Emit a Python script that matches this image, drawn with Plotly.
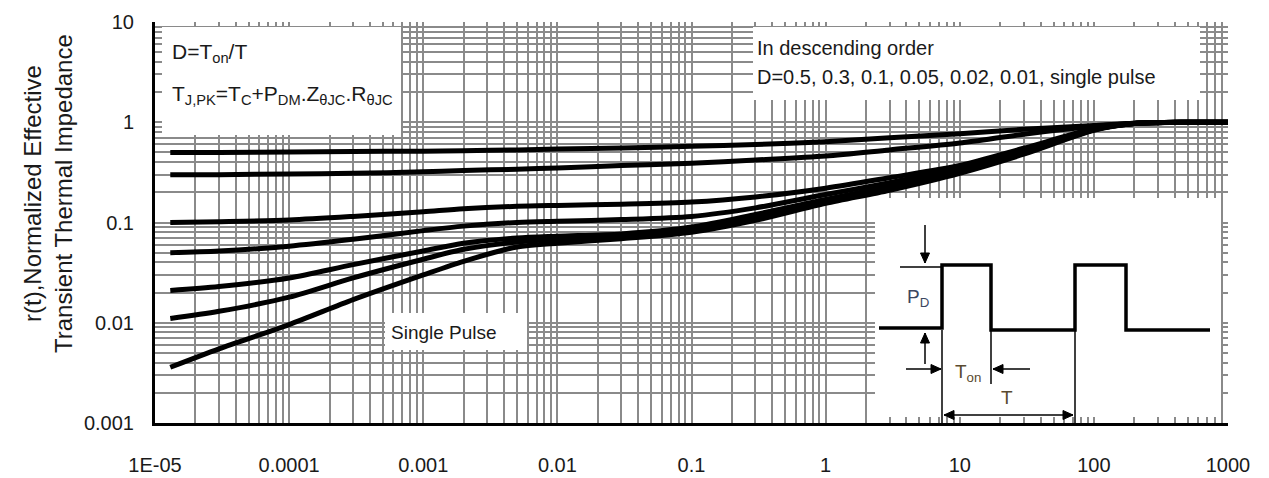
import plotly.graph_objects as go

# ---------------- data ----------------
t_vals = [1.3e-5, 3e-5, 1e-4, 3e-4, 1e-3, 2e-3, 5e-3, 1e-2, 3e-2, 0.1, 0.3, 1, 3, 10, 30, 100, 200, 500, 1000]

d_050 = [0.50, 0.50, 0.505, 0.51, 0.515, 0.52, 0.53, 0.54, 0.555, 0.575, 0.60, 0.64, 0.70, 0.77, 0.85, 0.93, 0.98, 1.0, 1.0]
d_030 = [0.30, 0.30, 0.305, 0.31, 0.32, 0.33, 0.34, 0.35, 0.37, 0.39, 0.42, 0.46, 0.53, 0.62, 0.76, 0.91, 0.98, 1.0, 1.0]
d_010 = [0.10, 0.102, 0.106, 0.115, 0.128, 0.137, 0.145, 0.148, 0.152, 0.16, 0.18, 0.22, 0.28, 0.37, 0.55, 0.86, 0.97, 1.0, 1.0]
d_005 = [0.05, 0.052, 0.058, 0.068, 0.083, 0.092, 0.10, 0.103, 0.107, 0.115, 0.14, 0.19, 0.25, 0.35, 0.52, 0.85, 0.97, 1.0, 1.0]
d_002 = [0.021, 0.023, 0.028, 0.038, 0.052, 0.062, 0.07, 0.073, 0.077, 0.09, 0.12, 0.17, 0.23, 0.33, 0.50, 0.84, 0.97, 1.0, 1.0]
d_001 = [0.011, 0.013, 0.018, 0.028, 0.043, 0.054, 0.064, 0.068, 0.073, 0.085, 0.11, 0.16, 0.22, 0.32, 0.49, 0.84, 0.97, 1.0, 1.0]
single = [0.0036, 0.0055, 0.0096, 0.017, 0.030, 0.041, 0.057, 0.062, 0.069, 0.08, 0.105, 0.155, 0.21, 0.31, 0.48, 0.83, 0.97, 1.0, 1.0]

series_names = ["D=0.5", "D=0.3", "D=0.1", "D=0.05", "D=0.02", "D=0.01", "Single pulse"]
series_vals = [d_050, d_030, d_010, d_005, d_002, d_001, single]

x_tickvals = [1e-5, 1e-4, 1e-3, 1e-2, 1e-1, 1, 10, 100, 1000]
x_ticktext = ["1E-05", "0.0001", "0.001", "0.01", "0.1", "1", "10", "100", "1000"]
y_tickvals = [0.001, 0.01, 0.1, 1, 10]
y_ticktext = ["0.001", "0.01", "0.1", "1", "10"]

x_minor = [m * 10.0 ** e for e in range(-5, 3) for m in range(2, 10)]
y_minor = [m * 10.0 ** e for e in range(-3, 1) for m in range(2, 10)]

# ---------------- geometry helpers (pixel -> paper) ----------------
W, H = 1269, 478
PL, PR, PT, PB = 155, 1228, 22, 423


def px(x):
    return (x - PL) / (PR - PL)


def py(y):
    return (PB - y) / (PB - PT)


FONT = "Liberation Sans Narrow, Arial Narrow, Liberation Sans, Arial"
GRID = "#8a8a8a"
TXT = "#1a1a1a"

fig = go.Figure()
for name, vals in zip(series_names, series_vals):
    fig.add_trace(go.Scatter(x=t_vals, y=vals, mode="lines", name=name,
                             line=dict(color="black", width=5, shape="spline", smoothing=0.8),
                             showlegend=False))

shapes = []
# white boxes covering the grid
for (x0, y0, x1, y1) in [(162, 27, 401, 135), (753, 27, 1200, 100), (385, 313, 527, 350), (875, 198, 1221, 417)]:
    shapes.append(dict(type="rect", xref="paper", yref="paper", x0=px(x0), x1=px(x1), y0=py(y1), y1=py(y0),
                       fillcolor="white", line=dict(width=0), layer="above"))

# pulse waveform in the inset
wave = [(879, 328), (942, 328), (942, 265), (991, 265), (991, 330), (1075, 330), (1075, 265),
        (1126, 265), (1126, 330), (1210, 330)]
path = "M " + " L ".join(f"{px(a)},{py(b)}" for a, b in wave)
shapes.append(dict(type="path", xref="paper", yref="paper", path=path, line=dict(color="black", width=3.5)))
thin = [((900, 267), (942, 267)), ((942, 330), (942, 423)), ((991, 330), (991, 384)), ((1075, 330), (1075, 423))]
for (a, b) in thin:
    shapes.append(dict(type="line", xref="paper", yref="paper", x0=px(a[0]), y0=py(a[1]), x1=px(b[0]), y1=py(b[1]),
                       line=dict(color="black", width=1.5)))


def head(hx, hy, dx, dy):
    L, Wd = 10, 4.5
    bx, by = hx - dx * L, hy - dy * L
    nx, ny = -dy, dx
    pts = [(hx, hy), (bx + nx * Wd, by + ny * Wd), (bx - nx * Wd, by - ny * Wd)]
    p = "M " + " L ".join(f"{px(a)},{py(b)}" for a, b in pts) + " Z"
    shapes.append(dict(type="path", xref="paper", yref="paper", path=p, fillcolor="black",
                       line=dict(color="black", width=1)))


def arrow(tx, ty, hx, hy, both=False):
    shapes.append(dict(type="line", xref="paper", yref="paper", x0=px(tx), y0=py(ty), x1=px(hx), y1=py(hy),
                       line=dict(color="black", width=1.5)))
    d = ((hx - tx) ** 2 + (hy - ty) ** 2) ** 0.5
    ux, uy = (hx - tx) / d, (hy - ty) / d
    head(hx, hy, ux, uy)
    if both:
        head(tx, ty, -ux, -uy)


arrow(925, 225, 925, 263)
arrow(925, 364, 925, 333)
arrow(906, 369, 941, 369)
arrow(1030, 369, 993, 369)
arrow(944, 415, 1073, 415, both=True)

annotations = []


def txt(x, y, s, size=19, color=TXT, xanchor="left"):
    annotations.append(dict(x=px(x), y=py(y), xref="paper", yref="paper", text=s, showarrow=False,
                            xanchor=xanchor, yanchor="middle", font=dict(family=FONT, size=size, color=color)))


txt(170, 53, "D=T<sub>on</sub>/T", size=21)
txt(170, 95, "T<sub>J,PK</sub>=T<sub>C</sub>+P<sub>DM</sub>.Z<sub>θJC</sub>.R<sub>θJC</sub>", size=21)
txt(755, 48, "In descending order", size=20)
txt(755, 77, "D=0.5, 0.3, 0.1, 0.05, 0.02, 0.01, single pulse", size=20)
txt(389, 332, "Single Pulse", size=19)
txt(905, 298, "P<sub>D</sub>", size=19, color="#3c4660")
txt(953, 373, "T<sub>on</sub>", size=19, color="#5a4a30")
txt(999, 397, "T", size=19, color="#5a4a30")

for xp, s in [(32, "r(t),Normalized Effective"), (63, "Transient Thermal Impedance")]:
    annotations.append(dict(x=px(xp), y=py(194), xref="paper", yref="paper", text=s,
                            textangle=-90, showarrow=False, xanchor="center", yanchor="middle",
                            font=dict(family="Liberation Sans, Arial", size=24, color=TXT)))

fig.update_layout(
    width=W, height=H, autosize=False,
    margin=dict(l=PL, r=W - PR, t=PT, b=H - PB, autoexpand=False),
    paper_bgcolor="white", plot_bgcolor="white",
    shapes=shapes, annotations=annotations,
    showlegend=False,
)
fig.update_xaxes(type="log", range=[-5, 3], tickmode="array", tickvals=x_tickvals, ticktext=x_ticktext,
                 showgrid=True, gridcolor=GRID, gridwidth=2, zeroline=False, automargin=False,
                 showline=True, linecolor="black", linewidth=3, mirror=False,
                 ticks="", ticklabelstandoff=22,
                 tickfont=dict(family=FONT, size=20, color=TXT),
                 minor=dict(tickmode="array", tickvals=x_minor, showgrid=True, gridcolor=GRID, gridwidth=2))
fig.update_yaxes(type="log", range=[-3, 1], tickmode="array", tickvals=y_tickvals, ticktext=y_ticktext,
                 showgrid=True, gridcolor=GRID, gridwidth=2, zeroline=False, automargin=False,
                 showline=True, linecolor="black", linewidth=3, mirror=False,
                 ticks="", ticklabelstandoff=14,
                 tickfont=dict(family=FONT, size=20, color=TXT),
                 minor=dict(tickmode="array", tickvals=y_minor, showgrid=True, gridcolor=GRID, gridwidth=2))

post = "document.documentElement.style.margin='0';document.body.style.margin='0';"
fig.write_html("out.html", config={"displayModeBar": False}, post_script=post)
